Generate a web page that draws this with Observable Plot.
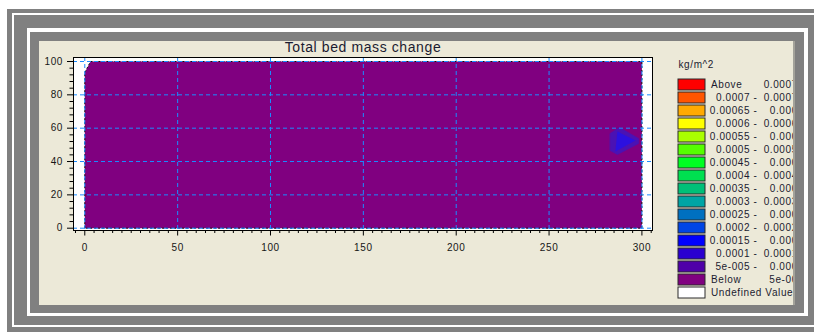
<!DOCTYPE html>
<html>
<head>
<meta charset="utf-8">
<script src="https://cdn.jsdelivr.net/npm/d3@7"></script>
<script src="https://cdn.jsdelivr.net/npm/@observablehq/plot@0.6"></script>
<style>
  html, body { margin: 0; padding: 0; background: #fff; width: 814px; height: 332px; overflow: hidden; }
  .win { position: absolute; box-sizing: border-box; }
  #outer { left: 7px; top: 9px; width: 830px; height: 340px; background: #808080; }
  #ring1 { left: 12px; top: 13px; width: 820px; height: 314px; border: 2px solid #fff; }
  #ring2 { left: 27px; top: 28px; width: 781px; height: 288px; border-style: solid; border-color: #fff;
           border-width: 4px 4px 3px 3px; }
  #panel { left: 39px; top: 41px; width: 754px; height: 264px; background: #ece9d8; overflow: hidden; }
  #shade { left: 793px; top: 41px; width: 2px; height: 264px; background: #a3a29a; }
  #chart { position: absolute; left: 0; top: 0; width: 754px; height: 264px; }
  #legend { position: absolute; left: 622px; top: 19px; width: 190px; height: 250px; }
  #panel svg { max-width: none !important; }
  #panel svg text { letter-spacing: 0.6px; }
  #panel svg text.ttl { letter-spacing: 0.75px; }
</style>
</head>
<body>
<div class="win" id="outer"></div>
<div class="win" id="ring1"></div>
<div class="win" id="ring2"></div>
<div class="win" id="panel">
  <div id="chart"></div>
  <div id="legend"></div>
</div>
<div class="win" id="shade"></div>
<script>
// Chart title and legend units
const chartTitle = "Total bed mass change";
const unitLabel = "kg/m^2";

// Axis ticks
const xTicks = [0, 50, 100, 150, 200, 250, 300];
const yTicks = [0, 20, 40, 60, 80, 100];
const xMinorTicks = [-5, 5, 10, 15, 20, 25, 30, 35, 40, 45, 55, 60, 65, 70, 75, 80, 85, 90, 95,
  105, 110, 115, 120, 125, 130, 135, 140, 145, 155, 160, 165, 170, 175, 180, 185, 190, 195,
  205, 210, 215, 220, 225, 230, 235, 240, 245, 255, 260, 265, 270, 275, 280, 285, 290, 295, 305];
const yMinorTicks = [4, 8, 12, 16, 24, 28, 32, 36, 44, 48, 52, 56, 64, 68, 72, 76, 84, 88, 92, 96];

// Contour polygons (domain coordinates, m)
// "Below 5e-005" region covering the bed
const belowX = [0, 0, 3.1, 300, 300];
const belowY = [0, 93.4, 100, 100, 0];
// "5e-005 - 0.0001" patch near the right boundary
const band1X = [282.9, 287.9, 298.2, 298.2, 286.8, 282.9];
const band1Y = [56.8, 60.4, 53.8, 50.8, 44.2, 46.6];
// "0.0001 - 0.00015" core inside that patch
const band2X = [286.8, 296.5, 285.7];
const band2Y = [58.0, 52.6, 46.0];

// Legend classes
const legendLow = ["Above", "0.0007", "0.00065", "0.0006", "0.00055", "0.0005", "0.00045", "0.0004",
  "0.00035", "0.0003", "0.00025", "0.0002", "0.00015", "0.0001", "5e-005", "Below", "Undefined Value"];
const legendHigh = ["0.00075", "0.00075", "0.0007", "0.00065", "0.0006", "0.00055", "0.0005", "0.00045",
  "0.0004", "0.00035", "0.0003", "0.00025", "0.0002", "0.00015", "0.0001", "5e-005", ""];
const legendColors = ["#ff0000", "#ff5500", "#ffaa00", "#ffff00", "#aaff00", "#55ff00", "#00ff22", "#00e050",
  "#00c078", "#00a5a5", "#0070c0", "#0045e5", "#0000ff", "#2a00d0", "#4f00a8", "#800080", "#ffffff"];

const bandColors = { below: "#800080", band1: "#4a12b4", band2: "#2c10e0" };

const ring = (xs, ys) => xs.map((x, i) => ({x, y: ys[i]}));
const belowRing = ring(belowX, belowY);
const band1Ring = ring(band1X, band1Y);
const band2Ring = ring(band2X, band2Y);

const gridStyle = {stroke: "#1a8cff", strokeWidth: 1, strokeDasharray: "4,3"};
const baseStyle = {fontFamily: "'Liberation Sans', Arial, sans-serif", fontSize: "10px", background: "transparent", overflow: "visible", maxWidth: "none"};

const chart = Plot.plot({
  width: 754,
  height: 264,
  marginLeft: 34,
  marginRight: 141,
  marginTop: 16,
  marginBottom: 75,
  style: {...baseStyle, color: "#161616"},
  x: {domain: [-6.08, 305.7]},
  y: {domain: [-1.38, 102.4]},
  marks: [
    Plot.frame({fill: "#ffffff", stroke: null}),
    Plot.line(belowRing, {x: "x", y: "y", fill: bandColors.below, stroke: "none", curve: "linear-closed"}),
    Plot.line(band1Ring, {x: "x", y: "y", fill: bandColors.band1, stroke: bandColors.band1, strokeWidth: 1, strokeOpacity: 0.6, curve: "linear-closed"}),
    Plot.line(band2Ring, {x: "x", y: "y", fill: bandColors.band2, stroke: "none", curve: "linear-closed"}),
    Plot.line(belowRing, {x: "x", y: "y", stroke: "#111", strokeWidth: 1, strokeDasharray: "2,2", strokeLinecap: "butt", curve: "linear-closed"}),
    Plot.ruleX(xTicks, gridStyle),
    Plot.ruleY(yTicks, gridStyle),
    Plot.frame({stroke: "#000", strokeWidth: 1}),
    Plot.axisY(yTicks, {tickSize: 6, tickPadding: 4.5, stroke: "#000", fill: "#161616", label: null}),
    Plot.axisY(yMinorTicks, {tickSize: 3.5, tickFormat: () => "", stroke: "#000", label: null}),
    Plot.axisX(xTicks, {tickSize: 5.5, tickPadding: 7.5, stroke: "#000", fill: "#161616", label: null}),
    Plot.axisX(xMinorTicks, {tickSize: 3, tickFormat: () => "", stroke: "#000", label: null}),
    Plot.text([chartTitle], {frameAnchor: "top", dy: -9.5, lineAnchor: "middle", fontSize: 14, fill: "#1b1b30", className: "ttl"})
  ]
});
document.getElementById("chart").append(chart);

// Legend: swatches stacked on a band scale, labels beside them
const legendRows = legendColors.map((color, i) => ({i, color, low: legendLow[i], high: legendHigh[i]}));
const named = new Set(["Above", "Below", "Undefined Value"]);

const legend = Plot.plot({
  width: 190,
  height: 250,
  marginLeft: 17,
  marginRight: 146,
  marginTop: 14.3,
  marginBottom: 8.7,
  style: {...baseStyle, color: "#1b1b30"},
  y: {type: "band", domain: legendRows.map(d => d.i), paddingInner: 0.185, paddingOuter: 0, axis: null},
  marks: [
    Plot.cell(legendRows, {y: "i", fill: "color", stroke: "#2a2a2a", strokeWidth: 1}),
    Plot.text(legendRows.filter(d => named.has(d.low)), {y: "i", text: "low", frameAnchor: "right", dx: 5.5, textAnchor: "start", fill: "#1b1b30"}),
    Plot.text(legendRows.filter(d => !named.has(d.low)), {y: "i", text: d => `${d.low} -`, frameAnchor: "right", dx: 52, textAnchor: "end", fill: "#1b1b30"}),
    Plot.text(legendRows.filter(d => d.high !== ""), {y: "i", text: "high", frameAnchor: "right", dx: 98.5, textAnchor: "end", fill: "#1b1b30"}),
    Plot.text([unitLabel], {frameAnchor: "top-left", dx: 0, dy: -10.5, textAnchor: "start", lineAnchor: "middle", fill: "#1b1b30"})
  ]
});
document.getElementById("legend").append(legend);
</script>
</body>
</html>
